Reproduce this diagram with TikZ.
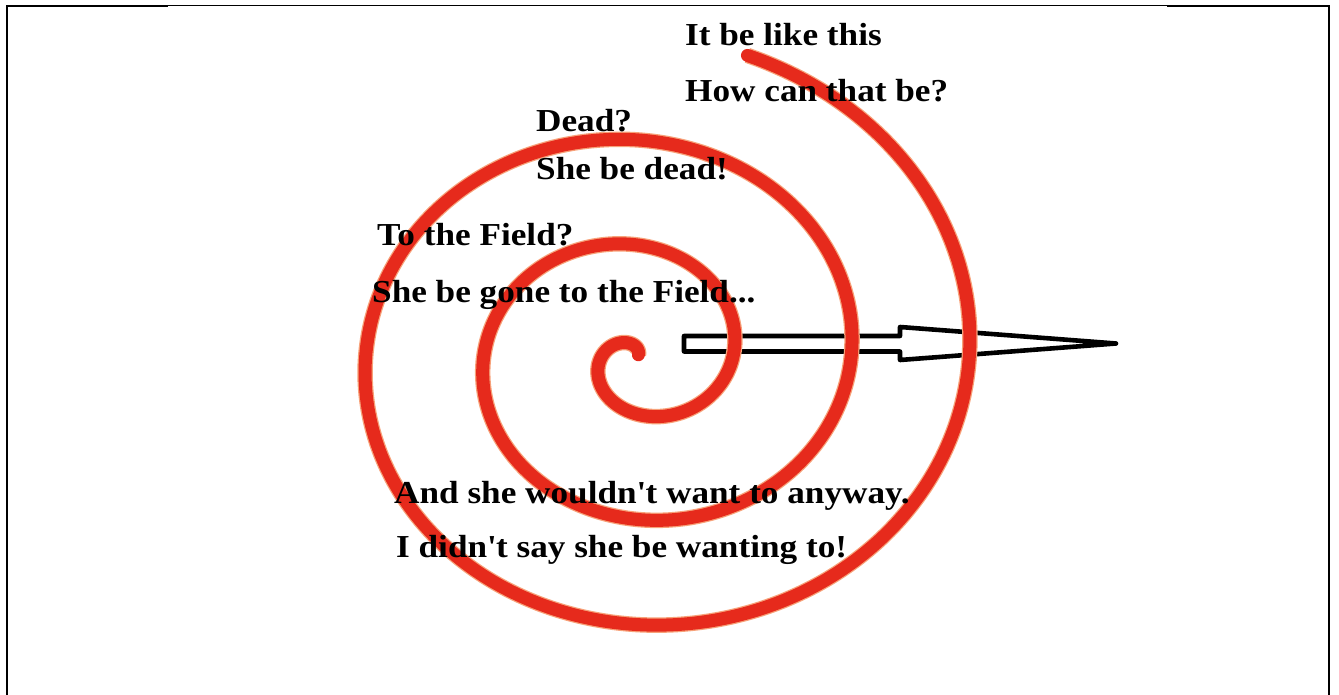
\documentclass[tikz,border=0pt]{standalone}
\usepackage{fontspec}
\setmainfont[FakeStretch=1.1]{Liberation Serif}
\definecolor{spiralred}{HTML}{E62A1C}
\definecolor{spiralglow}{HTML}{F7A27A}
\tikzset{
	spiraltext/.style={font=\fontsize{32}{38}\selectfont\bfseries, anchor=base west, inner sep=0pt}
}
\tikzset{
	spiralline/.style={line width=13pt, spiralred, line cap=round,
			preaction={draw=spiralglow, line width=15.5pt}}
}
\tikzset{
	framethick/.style={line width=2.5pt, black}
}

\begin{document}
\begin{tikzpicture}[x=1pt, y=-1pt]
	\useasboundingbox (0,0) rectangle (1339,695);

	% frame
	\draw[framethick] (7,695) -- (7,6) -- (168,6);
	\draw[line width=1pt] (168,6) -- (1167,6);
	\draw[framethick] (1167,6) -- (1329,6) -- (1329,695);

	% arrow outline
	\begin{scope}
		\coordinate (aA) at (684,336);
		\coordinate (aB) at (900,336);
		\coordinate (aC) at (900,327);
		\coordinate (aD) at (1116,343.5);
		\coordinate (aE) at (900,360);
		\coordinate (aF) at (900,351.5);
		\coordinate (aG) at (684,351.5);

		\draw[line width=4.6pt, line join=round]
		(aA) -- (aB) -- (aC) -- (aD) -- (aE) -- (aF) -- (aG) -- cycle;
	\end{scope}

	% spiral
	\draw[spiralline] plot[domain=1.3:20.11, samples=500, smooth, variable=\t]
	({638+(-23+18.8*\t)*cos(\t r)}, {356-0.89*(-23+18.8*\t)*sin(\t r)});

	% texts
	\node[spiraltext] (like) at (685,46) {It be like this};
	\node[spiraltext] (how) at (685,101.5) {How can that be?};
	\node[spiraltext] (dead) at (536,131.5) {Dead?};
	\node[spiraltext] (sheDead) at (536,180) {She be dead!};
	\node[spiraltext] (toField) at (377,246) {To the Field?};
	\node[spiraltext] (gone) at (372,302) {She be gone to the Field...};
	\node[spiraltext] (anyway) at (394,503) {And she wouldn\textquotesingle t want to anyway.};
	\node[spiraltext] (wanting) at (396,557) {I didn\textquotesingle t say she be wanting to!};

\end{tikzpicture}
\end{document}
